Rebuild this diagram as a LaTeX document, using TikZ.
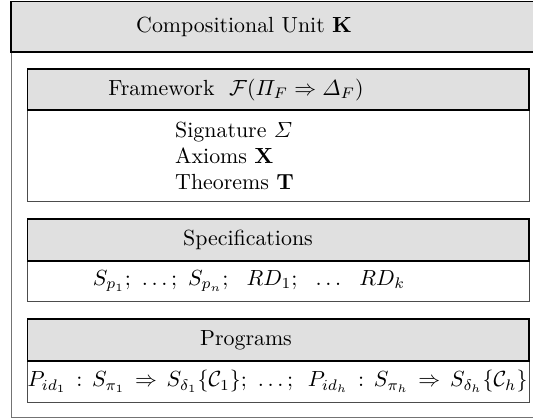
\documentclass[tikz,border=0pt]{standalone}
\usepackage{amsmath,amssymb}
\usetikzlibrary{positioning}

\definecolor{headgray}{gray}{0.88}

\begin{document}
\begin{tikzpicture}[
        x=0.457pt, y=-0.457pt,
        head/.style={
            draw=black,
            line width=0.9pt,
            fill=headgray
        },
        body/.style={
            draw=black!70,
            line width=0.45pt
        },
        frame/.style={
            draw=black!55,
            line width=0.45pt
        }
    ]
    \clip (0,0) rectangle (533,419);

    % the unit itself
    \draw[frame] (11,1.5) rectangle (560,417);
    \draw[head] (11,1.5) rectangle (560,51.7);
    \node (unit) at (244,26.6) {Compositional Unit $\mathbf{K}$};

    % framework part
    \draw[body] (27.5,110) rectangle (529,201.7);
    \draw[head] (27.5,69.3) rectangle (529,110);
    \node (framework) at (236,89.7)
        {Framework~ $\mathcal{F}(\varPi_F \Rightarrow \varDelta_F)$};
    \node[align=left] (framework body) at (234.5,156)
        {Signature $\varSigma$\\
        Axioms $\mathbf{X}$\\
        Theorems $\mathbf{T}$};

    % specifications
    \draw[body] (27.5,260.7) rectangle (529,301.7);
    \draw[head] (27.5,219.3) rectangle (529,260.7);
    \node (specs) at (248,240) {Specifications};
    \node (specs body) at (249,281.2)
        {$S_{p_1};\ \ldots;\ S_{p_n};\ \ RD_1;\ \ \ldots\ \ RD_k$};

    % programs
    \draw[body] (27.5,360.7) rectangle (529,402.3);
    \draw[head] (27.5,319.3) rectangle (529,360.7);
    \node (progs) at (246,340) {Programs};
    \node[inner sep=0pt] (progs body) at (277.5,381.5)
        {$P_{id_1}\,:\,S_{\pi_1}\,\Rightarrow\,S_{\delta_1}\{\mathcal{C}_1\};\ \ldots;\ \,P_{id_h}\,:\,S_{\pi_h}\,\Rightarrow\,S_{\delta_h}\{\mathcal{C}_h\}$};

\end{tikzpicture}
\end{document}
